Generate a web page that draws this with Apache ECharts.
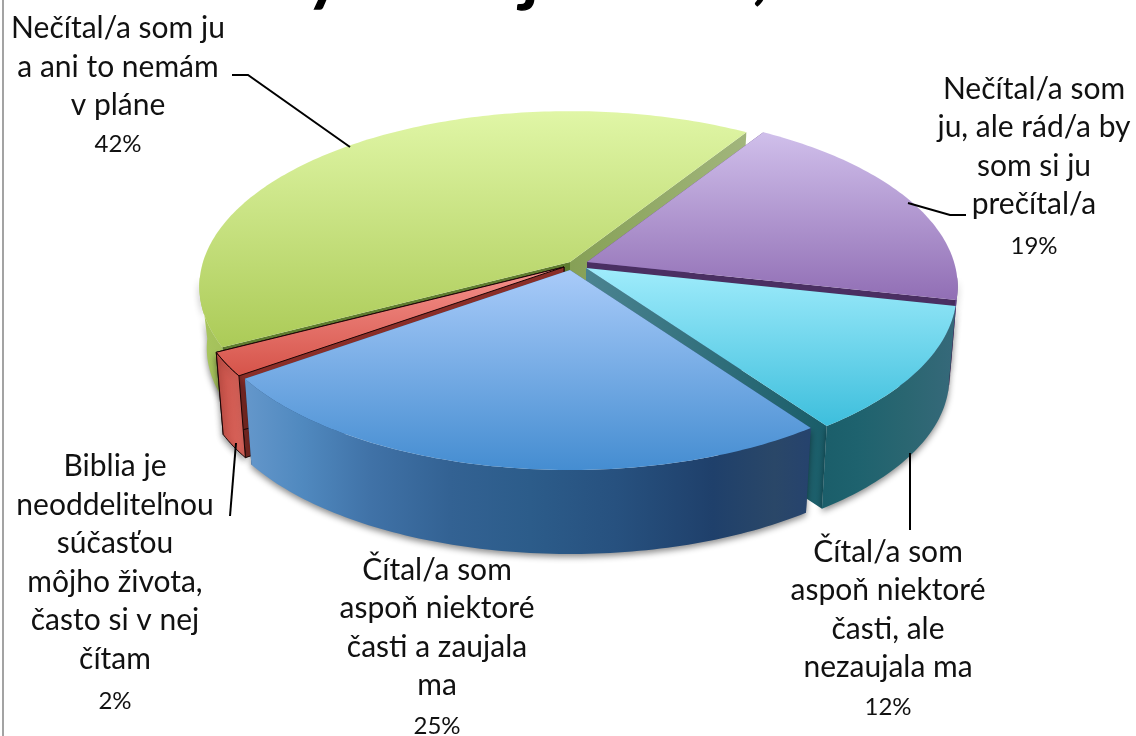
<!DOCTYPE html>
<html>
<head>
<meta charset="utf-8">
<style>html,body{margin:0;padding:0;background:#fff}#c{width:1136px;height:736px}</style>
<script src="https://cdn.jsdelivr.net/npm/echarts@6/dist/echarts.min.js"></script>
</head>
<body>
<div id="c"></div>
<script>
// ---- data (green, purple, cyan, blue, red)
const labels = [
  'Nečítal/a som ju\na ani to nemám\nv pláne',
  'Nečítal/a som\nju, ale rád/a by\nsom si ju\nprečítal/a',
  'Čítal/a som\naspoň niektoré\nčasti, ale\nnezaujala ma',
  'Čítal/a som\naspoň niektoré\nčasti a zaujala\nma',
  'Biblia je\nneoddeliteľnou\nsúčasťou\nmôjho života,\nčasto si v nej\nčítam'
];
const shares = [41.7, 19.4, 11.7, 25.0, 2.2];

// ---- presentation
const FONT = 'Lato, "Noto Sans", sans-serif';
const startDeg = 32.5;           // where the purple slice begins, clockwise from 12 o'clock
const drawOrder = [0, 1, 2, 4, 3];
const C = {x: 577, y: 265, a: 367, b: 172, p: 0.14, shrink: 0.98};
const rimRange = [95, 265];      // the part of the rim that faces the viewer
const depths = [62, 86, 86, 88, 84];
const explode = [[-7, -3], [10, -3], [9, 3], [-7, 5], [-13, 2]];
const topStops = [
  [112, 345, '#E0F6A6', '#ACCB58'],
  [135, 305, '#CFBEEA', '#8F6CB3'],
  [270, 428, '#9EEBFB', '#3CBEDC'],
  [270, 470, '#A9CBF9', '#458DD1'],
  [270, 375, '#F4918B', '#D6544A']
];
const wallStops = [
  [200, 240, [[0, '#A9C65E'], [1, '#A0BC58']]],
  [900, 960, [[0, '#5E3F82'], [1, '#5E3F82']]],
  [815, 955, [[0, '#1A5D69'], [.3, '#1E626E'], [.65, '#2A6671'], [1, '#36697A']]],
  [245, 815, [[0, '#6497CB'], [.1, '#5089BF'], [.22, '#4072A7'], [.36, '#336293'], [.5, '#2C5C8A'],
              [.65, '#27517F'], [.82, '#1F406B'], [.93, '#2A4768'], [1, '#25426E']]],
  [217, 240, [[0, '#C44F46'], [1, '#D9635A']]]
];
// radial cut faces: [clockwise-start edge, clockwise-end edge], each a horizontal gradient
const cutStops = [
  [[220, 570, [[0, '#5F7C30'], [1, '#5F7C30']]], [570, 750, [[0, '#86A056'], [1, '#A2B67D']]]],
  [[590, 770, [[0, '#5E3F82'], [1, '#5E3F82']]], [590, 960, [[0, '#4A2F62'], [1, '#4A2F62']]]],
  [[590, 960, [[0, '#3A4060'], [1, '#3A4060']]], [590, 825, [[0, '#4A8390'], [1, '#1A5D69']]]],
  [[570, 815, [[0, '#2A4F7C'], [1, '#2A4F7C']]], [245, 570, [[0, '#2A4F7C'], [1, '#2A4F7C']]]],
  [[235, 570, [[0, '#8A2E28'], [1, '#8A2E28']]], [215, 570, [[0, '#8A2E28'], [1, '#8A2E28']]]]
];
const leaders = [
  [[232, 75], [248, 75], [350, 147]],
  [[908, 203], [950, 215], [966, 215]],
  [[910, 453], [910, 530]],
  null,
  [[236, 443], [230, 516]]
];
const labelCentres = [[118, 67], [1034, 147], [888, 610], [437, 628], [115, 563]];
const pctCentres = [[118, 144], [1034, 246], [888, 707], [437, 726], [115, 701]];

function gradV(y0, y1, c0, c1) {
  return new echarts.graphic.LinearGradient(0, y0, 0, y1, [{offset: 0, color: c0}, {offset: 1, color: c1}], true);
}
function gradH(def) {
  return new echarts.graphic.LinearGradient(def[0], 0, def[1], 0, def[2].map(s => ({offset: s[0], color: s[1]})), true);
}
// the disc is projected with perspective: near side is larger
function project(deg, r) {
  const t = deg * Math.PI / 180, u = r * Math.sin(t), v = -r * Math.cos(t), w = 1 - C.p * v;
  return [C.x + C.a * u / w, C.y + C.b * v / w];
}
function upper(pt, off) { return [pt[0] + off[0], pt[1] + off[1]]; }
function lower(pt, off, d) {
  return [C.x + (pt[0] - C.x) * C.shrink + off[0], C.y + (pt[1] - C.y) * C.shrink + d + off[1]];
}
function arcPoints(s, e) {
  const arc = [];
  for (let t = s; t < e; t += 1) arc.push(project(t, 1));
  arc.push(project(e, 1));
  return arc;
}
const sum = shares.reduce((a, b) => a + b, 0);
const seam = [];
(function () {
  // clockwise order from purple: purple, cyan, blue, red, green
  let a = startDeg;
  [1, 2, 3, 4, 0].forEach(i => { const s = a, e = a + shares[i] / sum * 360; seam[i] = [s, e]; a = e; });
})();

function renderSlice(params, api) {
  const i = api.value(0), off = explode[i], d = depths[i], [s, e] = seam[i];
  const apex = project(0, 0);
  const T = arcPoints(s, e).map(p => upper(p, off));
  const first = project(s, 1), last = project(e, 1);
  const aT = upper(apex, off), aB = lower(apex, off, d);
  const edge = i === 4 ? {stroke: '#1a0505', lineWidth: 1} : {};
  const ts = topStops[i];
  const kids = [];
  kids.push({type: 'polygon', shape: {points: [aT, upper(first, off), lower(first, off, d), aB]},
    style: {fill: gradH(cutStops[i][0]), ...edge}});
  kids.push({type: 'polygon', shape: {points: [aT, upper(last, off), lower(last, off, d), aB]},
    style: {fill: gradH(cutStops[i][1]), ...edge}});
  const rs = Math.max(s, rimRange[0]), re = Math.min(e, rimRange[1]);
  if (rs < re) {
    const rim = arcPoints(rs, re);
    kids.push({type: 'polygon',
      shape: {points: rim.map(p => upper(p, off)).concat(rim.map(p => lower(p, off, d)).reverse())},
      style: {fill: gradH(wallStops[i]), shadowColor: 'rgba(0,0,0,0.45)', shadowBlur: 6, shadowOffsetY: 3, ...edge}});
  }
  kids.push({type: 'polygon', shape: {points: [aT].concat(T)},
    style: {fill: gradV(ts[0], ts[1], ts[2], ts[3]), ...edge}});
  return {type: 'group', children: kids};
}

const labelEls = [];
labels.forEach((t, i) => {
  labelEls.push({type: 'text', x: labelCentres[i][0], y: labelCentres[i][1], z: 10,
    style: {text: t, font: '30px ' + FONT, fill: '#111', align: 'center', verticalAlign: 'middle', lineHeight: 38.5}});
  labelEls.push({type: 'text', x: pctCentres[i][0], y: pctCentres[i][1], z: 10,
    style: {text: Math.round(shares[i]) + '%', font: '24px ' + FONT, fill: '#111', align: 'center', verticalAlign: 'middle'}});
  if (leaders[i]) labelEls.push({type: 'polyline', z: 10, shape: {points: leaders[i]},
    style: {stroke: '#000', lineWidth: 2, fill: null}});
});
// cut-off title descenders & left frame line
const titleEls = [['y', 325], ['j', 530], [',', 760]].map(g => ({type: 'text', x: g[1], y: 9, z: 10,
  style: {text: g[0], font: '80px ' + FONT, fill: '#000', stroke: '#000', lineWidth: 1.5, align: 'center', verticalAlign: 'bottom'}}));
const frame = {type: 'line', z: 10, shape: {x1: 3, y1: 0, x2: 3, y2: 736}, style: {stroke: '#A3A3A3', lineWidth: 2}};

const chart = echarts.init(document.getElementById('c'));
chart.setOption({
  animation: false,
  backgroundColor: '#fff',
  series: [{
    type: 'custom',
    coordinateSystem: 'none',
    silent: true,
    renderItem: renderSlice,
    data: drawOrder.map(i => [i, shares[i]])
  }],
  graphic: {elements: labelEls.concat(titleEls, [frame])}
});
</script>
</body>
</html>
